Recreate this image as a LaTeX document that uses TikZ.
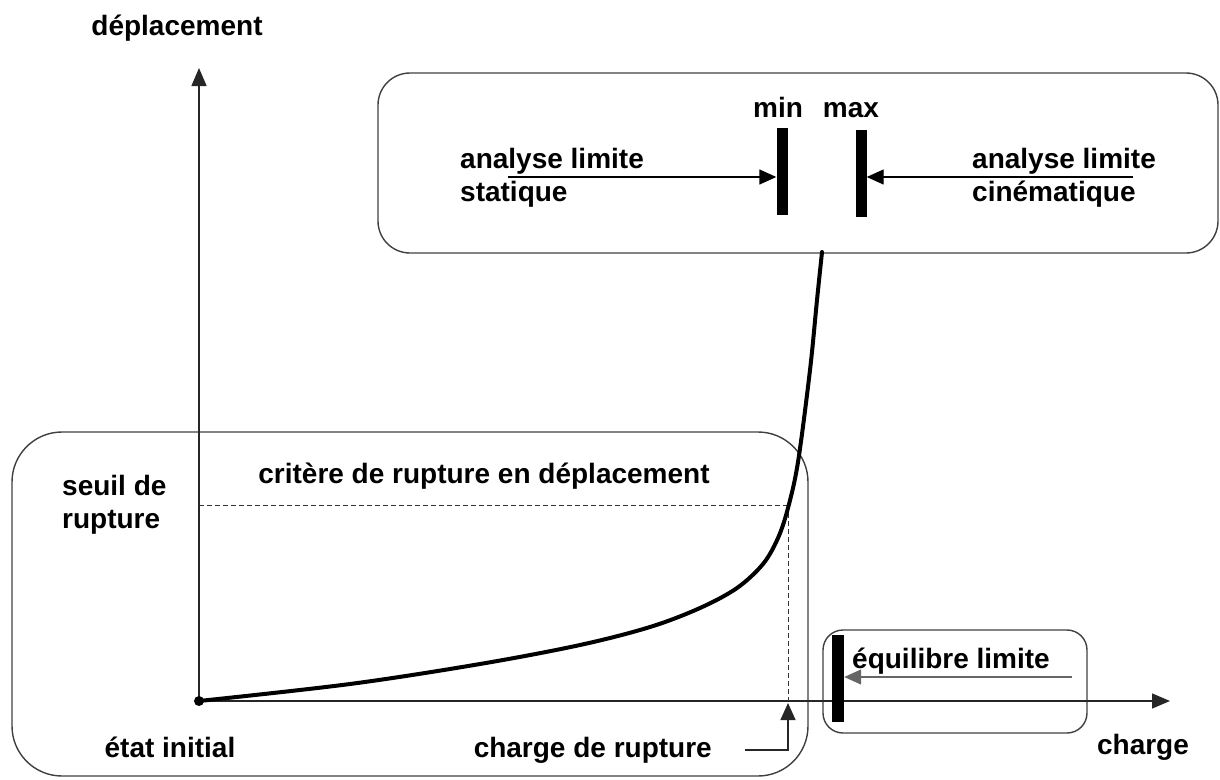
\documentclass[tikz,border=0pt]{standalone}
\usepackage{fontspec}
\setmainfont{Liberation Sans}
\usetikzlibrary{arrows.meta}
\begin{document}
\begin{tikzpicture}[x=1pt,y=-1pt,
  lbl/.style={font=\fontsize{28}{33}\selectfont\bfseries, inner sep=0pt, text=black},
  frame/.style={draw=black!75, line width=1.4pt},
  axis/.style={draw=black!85, line width=1.4pt, -{Triangle[length=18pt,width=15pt]}},
  bar/.style={fill=black, draw=none},
  guide/.style={draw=black!80, line width=1pt, dash pattern=on 5pt off 3pt},
  tip/.style={-{Triangle[length=17pt,width=15pt]}, line width=1.4pt}
]
\useasboundingbox (0,0) rectangle (1220,779);
% frames
\draw[frame, rounded corners=32pt] (378,73) rectangle (1218,253);
\draw[frame, rounded corners=50pt] (12,432) rectangle (808,776);
\draw[frame, rounded corners=20pt] (823,630) rectangle (1087,733);
% axes
\coordinate (O) at (199,701);
\coordinate (ytip) at (199,68);
\coordinate (xtip) at (1170,701);
\draw[axis] (O) -- (ytip);
\draw[axis] (O) -- (xtip);
\fill (O) circle (5pt);
% labels of axes
\node[lbl] (dep) at (177,28) {déplacement};
\node[lbl] (chg) at (1143,747) {charge};
\node[lbl] (etat) at (170,747) {état initial};
\node[lbl, anchor=west, align=left] (seuil) at (62,505) {seuil de\\rupture};
\node[lbl] (crit) at (484,476) {critère de rupture en déplacement};
% dashed guides
\coordinate (R) at (788,505);
\coordinate (Rx) at (788,701);
\draw[guide] (199,505) -- (R);
\draw[guide] (R) -- (Rx);
% charge de rupture
\node[lbl, anchor=east] (cdr) at (712,750) {charge de rupture};
\coordinate (c1) at (745,750);
\coordinate (c2) at (788,750);
\draw[tip, draw=black!85] (c1) -- (c2) -- (788,703);
% curve
\draw[line width=4pt, line cap=round, line join=round] plot[smooth, tension=0.55] coordinates {
 (199,701) (350,684) (480,664) (580,645) (650,627) (700,608) (737,588) (763,564) (778,538) (788,508) (798,462) (810,370) (817,300) (822,252)};
% top box contents
\node[bar, minimum width=11pt, minimum height=87pt, inner sep=0pt] (minbar) at (782,171) {};
\node[bar, minimum width=11pt, minimum height=87pt, inner sep=0pt] (maxbar) at (861,173) {};
\node[lbl, anchor=base] (min) at (778,117) {min};
\node[lbl, anchor=base] (max) at (851,117) {max};
\node[lbl, anchor=west, align=left] (stat) at (460,178) {analyse limite\\statique};
\node[lbl, anchor=west, align=left] (cine) at (972,178) {analyse limite\\cinématique};
\coordinate (s0) at (508,177);
\coordinate (k0) at (1133,177);
\draw[tip] (s0) -- (minbar.west |- s0);
\draw[tip] (k0) -- (maxbar.east |- k0);
% small box contents
\node[bar, minimum width=12pt, minimum height=87pt, inner sep=0pt] (eqbar) at (838,678) {};
\node[lbl, anchor=west] (eq) at (852,661) {équilibre limite};
\coordinate (e0) at (1072,677);
\draw[tip, draw=black!60] (e0) -- (eqbar.east |- e0);
\end{tikzpicture}
\end{document}
